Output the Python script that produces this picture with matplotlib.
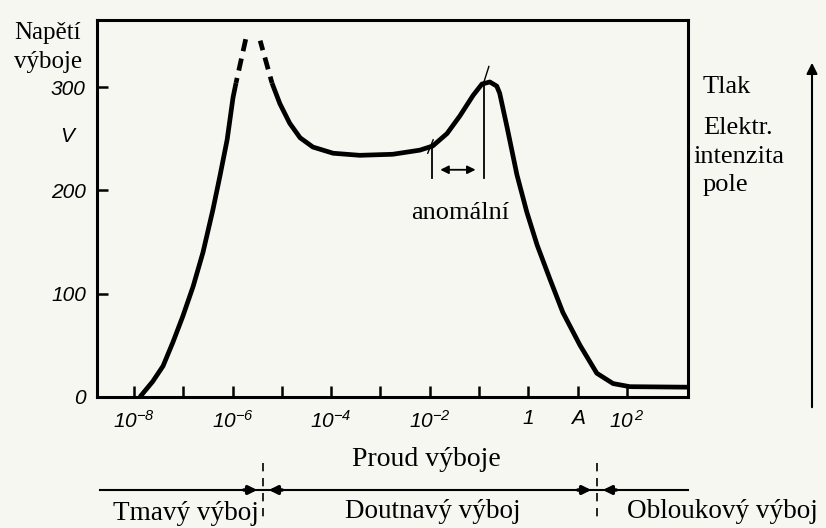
import matplotlib
matplotlib.use("Agg")
import matplotlib.pyplot as plt
import numpy as np

plt.rcParams['mathtext.fontset'] = 'custom'
plt.rcParams['mathtext.rm'] = 'Liberation Sans:italic'
plt.rcParams['mathtext.it'] = 'Liberation Sans:italic'
plt.rcParams['mathtext.sf'] = 'Liberation Sans:italic'

# proud vyboje jako exponent (log10 A), napeti ve V
rise_exp = [-7.88, -7.62, -7.41, -7.21, -7.01, -6.80, -6.60, -6.40, -6.26, -6.11, -5.99, -5.93]
rise_v = [0, 15, 30, 53, 78, 107, 140, 181, 213, 249, 290, 304]
dash_l_exp = [-5.93, -5.73]
dash_l_v = [304, 347]
dash_r_exp = [-5.44, -5.20]
dash_r_v = [345, 304]
glow_exp = [-5.20, -5.04, -4.84, -4.63, -4.37, -3.96, -3.42, -2.75, -2.20, -1.94, -1.65,
            -1.39, -1.12, -0.94, -0.78, -0.64, -0.58, -0.43, -0.23, -0.03, 0.18, 0.44,
            0.70, 1.05, 1.39, 1.72, 2.06, 3.24]
glow_v = [304, 284, 265, 251, 242, 236, 234, 235, 239, 243, 255,
          272, 292, 303, 305, 301, 294, 261, 215, 179, 147, 114,
          82, 50, 23, 13, 10, 9.5]

# hranice anomalniho vyboje
anom_exp = [-1.955, -0.90]
anom_top = [243, 304]
anom_bottom = 212
anom_arrow = 220

tick_exp = [-8, -7, -6, -5, -4, -3, -2, -1, 0, 1, 2]
tick_lab = {-8: r'$10^{-8}$', -6: r'$10^{-6}$', -4: r'$10^{-4}$', -2: r'$10^{-2}$',
            0: '1', 1: 'A', 2: r'$10^{\,2}$'}
y_ticks = [0, 100, 200, 300]

W, H = 826, 528
fig = plt.figure(figsize=(W / 100, H / 100), dpi=100)
fig.patch.set_facecolor('#f7f7f2')
ax = fig.add_axes([97 / W, 1 - 397 / H, (688 - 97) / W, (397 - 20) / H])
ax.set_facecolor('#f7f7f2')

def px(e):
    return np.power(10.0, np.array(e))

lw = 3.4
curve = dict(color='black', lw=lw, solid_joinstyle='round', solid_capstyle='butt')
ax.plot(px(rise_exp), rise_v, **curve)
ax.plot(px(glow_exp), glow_v, **curve)
ax.plot(px(dash_l_exp), dash_l_v, color='black', lw=lw, ls=(1.5, (2.6, 1.6)))
ax.plot(px(dash_r_exp), dash_r_v, color='black', lw=lw, ls=(0.5, (2.6, 1.6)))

for e, top in zip(anom_exp, anom_top):
    ax.plot(px([e, e]), [top, anom_bottom], color='black', lw=1.3)
ax.annotate('', xy=(px(anom_exp[0]), anom_arrow), xytext=(px(anom_exp[1]), anom_arrow),
            arrowprops=dict(arrowstyle='<|-|>', color='black', lw=1.3,
                            mutation_scale=12, shrinkA=6, shrinkB=6))
ax.plot(px([-2.04, -1.93]), [236, 249], color='black', lw=1.0)
ax.plot(px([-0.90, -0.80]), [305, 320], color='black', lw=1.0)
ax.text(px(-1.38), 178, 'anomální', family='Liberation Serif', fontsize=19,
        ha='center', va='center')

ax.set_xscale('log')
ax.set_xlim(10 ** -8.75, 10 ** 3.24)
ax.set_ylim(0, 365)
ax.set_xticks(px(tick_exp))
ax.set_xticklabels([tick_lab.get(t, '') for t in tick_exp])
ax.xaxis.set_minor_locator(matplotlib.ticker.NullLocator())
ax.set_yticks(y_ticks)
ax.set_yticklabels([str(v) for v in y_ticks])
ax.tick_params(direction='in', length=8, width=1.8, labelsize=15, color='black')
ax.tick_params(axis='x', pad=9)
ax.tick_params(axis='y', pad=8)
for lab in ax.get_xticklabels() + ax.get_yticklabels():
    lab.set_family('Liberation Sans')
    lab.set_style('italic')
for s in ax.spines.values():
    s.set_linewidth(2.2)
ax.text(-0.05, 252, 'V', transform=ax.get_yaxis_transform(), family='Liberation Sans',
        style='italic', fontsize=15, ha='center', va='center')

def ft(x, y, s, **kw):
    fig.text(x / W, 1 - y / H, s, family='Liberation Serif', **kw)

ft(14, 33, 'Napětí', fontsize=18, ha='left', va='center')
ft(14, 62, 'výboje', fontsize=18, ha='left', va='center')
ft(352, 460, 'Proud výboje', fontsize=20, ha='left', va='center')
ft(113, 513, 'Tmavý výboj', fontsize=19.5, ha='left', va='center')
ft(345, 511, 'Doutnavý výboj', fontsize=19.5, ha='left', va='center')
ft(627, 511, 'Obloukový výboj', fontsize=19.5, ha='left', va='center')
ft(703, 87, 'Tlak', fontsize=19, ha='left', va='center')
ft(703, 128, 'Elektr.', fontsize=19, ha='left', va='center')
ft(693, 157, 'intenzita', fontsize=19, ha='left', va='center')
ft(703, 185, 'pole', fontsize=19, ha='left', va='center')

# sipka vpravo a dolni rozdeleni oblasti
def fl(x0, y0, x1, y1, **kw):
    fig.add_artist(plt.Line2D([x0 / W, x1 / W], [1 - y0 / H, 1 - y1 / H],
                              transform=fig.transFigure, color='black', **kw))

fig.add_artist(matplotlib.patches.FancyArrowPatch(
    (812 / W, 1 - 410 / H), (812 / W, 1 - 60 / H), transform=fig.transFigure,
    arrowstyle='-|>', mutation_scale=16, color='black', lw=1.5))
fl(100, 490, 688, 490, lw=1.5)
for xm in [263, 597]:
    fl(xm, 463, xm, 520, lw=1.2, ls=(0, (5, 4)))
    for side in [-1, 1]:
        fig.add_artist(matplotlib.patches.FancyArrowPatch(
            ((xm + side * 22) / W, 1 - 490 / H), ((xm + side * 3) / W, 1 - 490 / H),
            transform=fig.transFigure, arrowstyle='-|>', mutation_scale=12,
            color='black', lw=2.5))

fig.savefig('out.png', dpi=100, facecolor=fig.get_facecolor())
